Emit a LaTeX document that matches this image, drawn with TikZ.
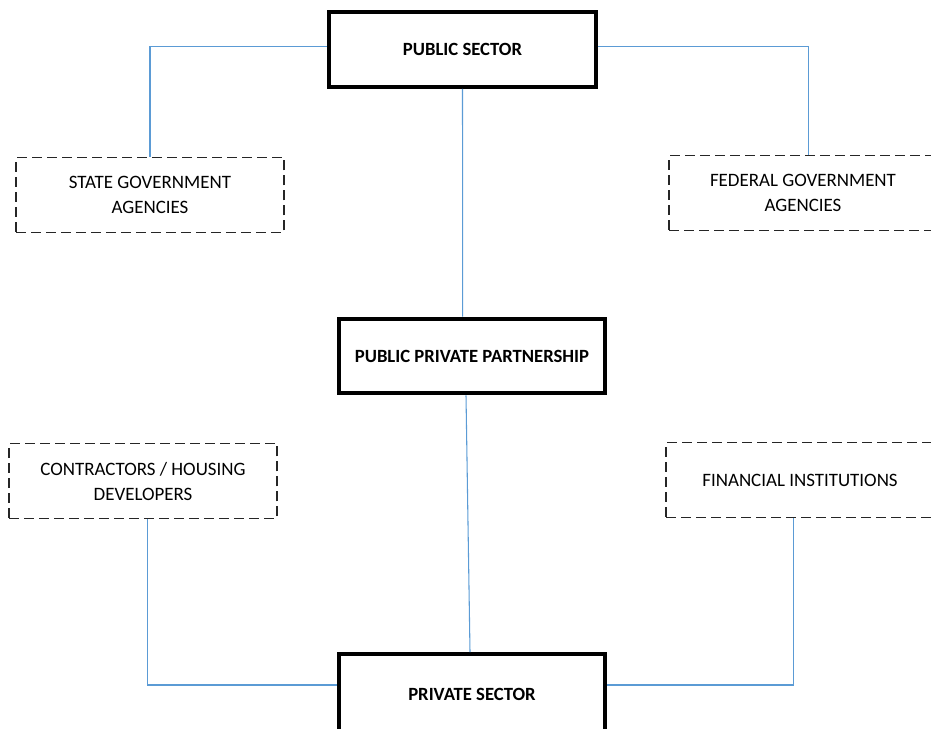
\documentclass[tikz,border=0pt]{standalone}
\usepackage{fontspec}
\setmainfont{Carlito}
\usetikzlibrary{positioning}
\usetikzlibrary{calc}
\definecolor{LinkBlue}{RGB}{91,155,213}
\definecolor{DashGrey}{RGB}{38,38,38}

\begin{document}
\begin{tikzpicture}[x=0.75pt,y=-0.75pt,
		mainbox/.style={draw=black,line width=3pt,minimum width=200pt,minimum height=56pt,align=center,font=\bfseries\fontsize{14pt}{18.75pt}\selectfont},
		partybox/.style={draw=DashGrey,line width=1.1pt,dash pattern=on 7.5pt off 3.75pt,minimum width=201pt,minimum height=56pt,align=center,font=\fontsize{14.2pt}{18.75pt}\selectfont},
		link/.style={draw=LinkBlue,line width=0.8pt}]
			\useasboundingbox (0,0) rectangle (931,728);
			% sectors and partnership
			\node[mainbox] (pub) at (462.5,49.5) {PUBLIC SECTOR};
			\node[mainbox] (ppp) at (472,356) {PUBLIC PRIVATE PARTNERSHIP};
			\node[mainbox,minimum height=60pt,anchor=north] (priv) at (472,652) {PRIVATE SECTOR};
			% parties
			\node[partybox] (state) at (150,195) {STATE GOVERNMENT\\AGENCIES};
			\node[partybox] (fed) at (803,193) {FEDERAL GOVERNMENT\\AGENCIES};
			\node[partybox] (con) at (143,481) {CONTRACTORS / HOUSING\\DEVELOPERS};
			\node[partybox] (fin) at (800,480) {FINANCIAL INSTITUTIONS};
			% connectors
			\draw[link] ([yshift=2.5pt]pub.west) -| (state.north);
			\draw[link] ([yshift=2.5pt]pub.east) -| ([xshift=4pt]fed.north);
			\draw[link] (pub.south) -- ([xshift=-7pt]ppp.north);
			\draw[link] ([xshift=-4.5pt]ppp.south) -- ([xshift=-1.5pt]priv.north);
			\draw[link] ([xshift=3.5pt]con.south) |- ([yshift=6.75pt]priv.west);
			\draw[link] ([xshift=-5pt]fin.south) |- ([yshift=6.75pt]priv.east);
		\end{tikzpicture}
\end{document}
